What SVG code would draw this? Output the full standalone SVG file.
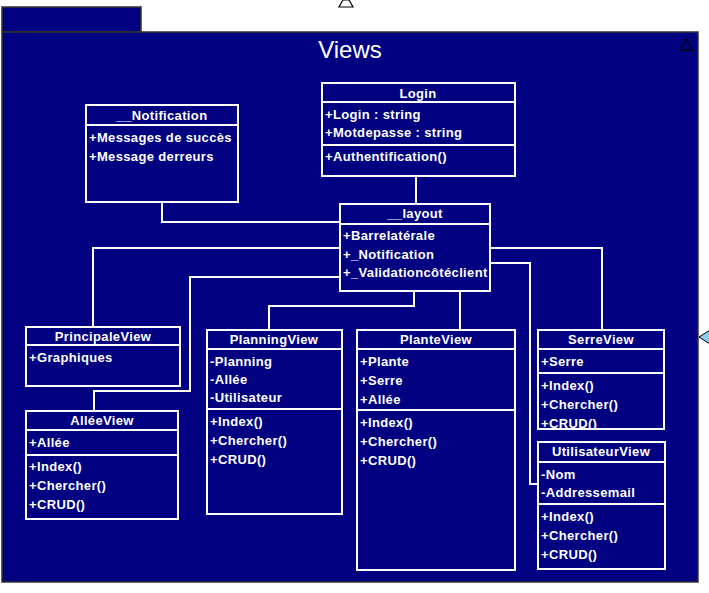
<svg xmlns="http://www.w3.org/2000/svg" width="709" height="593" viewBox="0 0 709 593">
<defs>
<style>
.pkg{fill:#000080;stroke:#333;stroke-width:1.5}
.box{fill:#000080;stroke:#fff;stroke-width:2}
.sep{stroke:#fff;stroke-width:2}
.con{fill:none;stroke:#fff;stroke-width:2}
.t{font-family:"Liberation Sans",Arial,sans-serif;font-size:13px;font-weight:bold;fill:#fff;letter-spacing:0.35px}
.h{text-anchor:middle}
</style>
<clipPath id="serreClip"><rect x="539" y="331" width="124" height="97"/></clipPath>
</defs>
<rect width="709" height="593" fill="#fff"/>
<g id="package">
<polygon points="339,7 353,7 349,0 343,0" fill="#fff" stroke="#000" stroke-width="1.2"/>
<rect class="pkg" x="2" y="7" width="139" height="25"/>
<rect class="pkg" x="2" y="32" width="696" height="550"/>
<text x="350" y="58" font-family="Liberation Sans,Arial,sans-serif" font-size="24" fill="#fff" text-anchor="middle">Views</text>
<polygon points="686.5,39 680.5,50 692.5,50" fill="none" stroke="#000" stroke-width="1.3"/>
<polygon points="699,337 710,330 710,344" fill="#87CEEB" stroke="#000" stroke-width="1"/>
</g>
<g id="connectors">
<path class="con" d="M416,176 V204"/>
<path class="con" d="M162,202 V222 H340"/>
<path class="con" d="M340,248 H93 V327"/>
<path class="con" d="M340,277 H190 V391 H94 V411"/>
<path class="con" d="M414,291 V306 H269 V330"/>
<path class="con" d="M460,291 V330"/>
<path class="con" d="M490,248 H602 V330"/>
<path class="con" d="M490,263 H530 V484 H538"/>
</g>
<g id="notification">
<rect class="box" x="86" y="105" width="152" height="97"/>
<line class="sep" x1="86" y1="125" x2="238" y2="125"/>
<text class="t h" x="162" y="120">__Notification</text>
<text class="t" x="89" y="142">+Messages de succès</text>
<text class="t" x="89" y="161">+Message derreurs</text>
</g>
<g id="login">
<rect class="box" x="322" y="83" width="193" height="93"/>
<line class="sep" x1="322" y1="102" x2="515" y2="102"/>
<line class="sep" x1="322" y1="145" x2="515" y2="145"/>
<text class="t h" x="418" y="98">Login</text>
<text class="t" x="325" y="119">+Login : string</text>
<text class="t" x="325" y="137">+Motdepasse : string</text>
<text class="t" x="325" y="161">+Authentification()</text>
</g>
<g id="layout">
<rect class="box" x="340" y="204" width="150" height="87"/>
<line class="sep" x1="340" y1="224" x2="490" y2="224"/>
<text class="t h" x="415" y="218">__layout</text>
<text class="t" x="343" y="240">+Barrelatérale</text>
<text class="t" x="343" y="259">+_Notification</text>
<text class="t" x="343" y="277">+_Validationcôtéclient</text>
</g>
<g id="principaleview">
<rect class="box" x="26" y="327" width="154" height="59"/>
<line class="sep" x1="26" y1="345" x2="180" y2="345"/>
<text class="t h" x="103" y="341">PrincipaleView</text>
<text class="t" x="29" y="362">+Graphiques</text>
</g>
<g id="alleeview">
<rect class="box" x="26" y="411" width="152" height="108"/>
<line class="sep" x1="26" y1="430" x2="178" y2="430"/>
<line class="sep" x1="26" y1="455" x2="178" y2="455"/>
<text class="t h" x="102" y="425">AlléeView</text>
<text class="t" x="29" y="447">+Allée</text>
<text class="t" x="29" y="471">+Index()</text>
<text class="t" x="29" y="490">+Chercher()</text>
<text class="t" x="29" y="509">+CRUD()</text>
</g>
<g id="planningview">
<rect class="box" x="207" y="330" width="135" height="184"/>
<line class="sep" x1="207" y1="349" x2="342" y2="349"/>
<line class="sep" x1="207" y1="409" x2="342" y2="409"/>
<text class="t h" x="274" y="344">PlanningView</text>
<text class="t" x="210" y="366">-Planning</text>
<text class="t" x="210" y="384">-Allée</text>
<text class="t" x="210" y="402">-Utilisateur</text>
<text class="t" x="210" y="426">+Index()</text>
<text class="t" x="210" y="445">+Chercher()</text>
<text class="t" x="210" y="464">+CRUD()</text>
</g>
<g id="planteview">
<rect class="box" x="357" y="330" width="158" height="240"/>
<line class="sep" x1="357" y1="349" x2="515" y2="349"/>
<line class="sep" x1="357" y1="410" x2="515" y2="410"/>
<text class="t h" x="436" y="344">PlanteView</text>
<text class="t" x="360" y="366">+Plante</text>
<text class="t" x="360" y="385">+Serre</text>
<text class="t" x="360" y="404">+Allée</text>
<text class="t" x="360" y="427">+Index()</text>
<text class="t" x="360" y="446">+Chercher()</text>
<text class="t" x="360" y="465">+CRUD()</text>
</g>
<g id="serreview">
<rect class="box" x="538" y="330" width="126" height="99"/>
<line class="sep" x1="538" y1="349" x2="664" y2="349"/>
<line class="sep" x1="538" y1="373" x2="664" y2="373"/>
<text class="t h" x="601" y="344">SerreView</text>
<text class="t" x="541" y="366">+Serre</text>
<g clip-path="url(#serreClip)">
<text class="t" x="541" y="390">+Index()</text>
<text class="t" x="541" y="409">+Chercher()</text>
<text class="t" x="541" y="428">+CRUD()</text>
</g>
</g>
<g id="utilisateurview">
<rect class="box" x="538" y="442" width="127" height="127"/>
<line class="sep" x1="538" y1="462" x2="665" y2="462"/>
<line class="sep" x1="538" y1="504" x2="665" y2="504"/>
<text class="t h" x="601" y="456">UtilisateurView</text>
<text class="t" x="541" y="479">-Nom</text>
<text class="t" x="541" y="497">-Addressemail</text>
<text class="t" x="541" y="521">+Index()</text>
<text class="t" x="541" y="540">+Chercher()</text>
<text class="t" x="541" y="559">+CRUD()</text>
</g>
</svg>
